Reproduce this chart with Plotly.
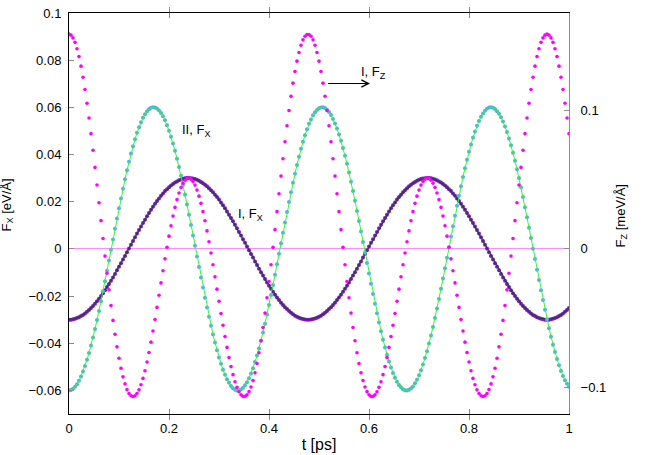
import plotly.graph_objects as go

# sampling of the trajectories: one point every 4 fs
T_START = 0.0
T_STEP = 0.004

# case I, F_X [eV/A]
fx_one = [
    -0.03, -0.03, -0.0298, -0.0296, -0.0293, -0.029, -0.0285, -0.028, -0.0274, -0.0267,
    -0.0259, -0.0251, -0.0242, -0.0233, -0.0222, -0.0211, -0.02, -0.0188, -0.0175, -0.0162,
    -0.0149, -0.0135, -0.0121, -0.0106, -0.0091, -0.0076, -0.0061, -0.0045, -0.003, -0.0014,
    0.0002, 0.0018, 0.0033, 0.0049, 0.0065, 0.008, 0.0095, 0.011, 0.0124, 0.0138,
    0.0152, 0.0166, 0.0179, 0.0191, 0.0203, 0.0214, 0.0225, 0.0235, 0.0245, 0.0253,
    0.0261, 0.0269, 0.0275, 0.0281, 0.0286, 0.0291, 0.0294, 0.0297, 0.0299, 0.03,
    0.03, 0.0299, 0.0298, 0.0296, 0.0293, 0.0289, 0.0284, 0.0278, 0.0272, 0.0265,
    0.0257, 0.0249, 0.024, 0.023, 0.022, 0.0209, 0.0197, 0.0185, 0.0172, 0.0159,
    0.0145, 0.0131, 0.0117, 0.0102, 0.0087, 0.0072, 0.0057, 0.0041, 0.0026, 0.001,
    -0.0006, -0.0022, -0.0037, -0.0053, -0.0068, -0.0084, -0.0099, -0.0113, -0.0128, -0.0142,
    -0.0156, -0.0169, -0.0182, -0.0194, -0.0206, -0.0217, -0.0228, -0.0238, -0.0247, -0.0255,
    -0.0263, -0.0271, -0.0277, -0.0283, -0.0288, -0.0292, -0.0295, -0.0297, -0.0299, -0.03,
    -0.03, -0.0299, -0.0297, -0.0295, -0.0292, -0.0288, -0.0283, -0.0277, -0.0271, -0.0263,
    -0.0255, -0.0247, -0.0238, -0.0228, -0.0217, -0.0206, -0.0194, -0.0182, -0.0169, -0.0156,
    -0.0142, -0.0128, -0.0113, -0.0099, -0.0084, -0.0068, -0.0053, -0.0037, -0.0022, -0.0006,
    0.001, 0.0026, 0.0041, 0.0057, 0.0072, 0.0087, 0.0102, 0.0117, 0.0131, 0.0145,
    0.0159, 0.0172, 0.0185, 0.0197, 0.0209, 0.022, 0.023, 0.024, 0.0249, 0.0257,
    0.0265, 0.0272, 0.0278, 0.0284, 0.0289, 0.0293, 0.0296, 0.0298, 0.0299, 0.03,
    0.03, 0.0299, 0.0297, 0.0294, 0.0291, 0.0286, 0.0281, 0.0275, 0.0269, 0.0261,
    0.0253, 0.0245, 0.0235, 0.0225, 0.0214, 0.0203, 0.0191, 0.0179, 0.0166, 0.0152,
    0.0138, 0.0124, 0.011, 0.0095, 0.008, 0.0065, 0.0049, 0.0033, 0.0018, 0.0002,
    -0.0014, -0.003, -0.0045, -0.0061, -0.0076, -0.0091, -0.0106, -0.0121, -0.0135, -0.0149,
    -0.0162, -0.0175, -0.0188, -0.02, -0.0211, -0.0222, -0.0233, -0.0242, -0.0251, -0.0259,
    -0.0267, -0.0274, -0.028, -0.0285, -0.029, -0.0293, -0.0296, -0.0298, -0.03, -0.03,
    -0.03, -0.0298, -0.0296, -0.0293, -0.029, -0.0285, -0.028, -0.0274, -0.0267, -0.0259,
    -0.0251,
]

# case II, F_X [eV/A]
fx_two = [
    -0.06, -0.0598, -0.0593, -0.0585, -0.0574, -0.0559, -0.0541, -0.052, -0.0497, -0.047,
    -0.0441, -0.041, -0.0376, -0.034, -0.0302, -0.0263, -0.0222, -0.018, -0.0137, -0.0093,
    -0.0049, -0.0004, 0.004, 0.0085, 0.0129, 0.0172, 0.0214, 0.0255, 0.0295, 0.0333,
    0.0369, 0.0404, 0.0435, 0.0465, 0.0492, 0.0516, 0.0537, 0.0556, 0.0571, 0.0583,
    0.0592, 0.0598, 0.06, 0.0599, 0.0595, 0.0587, 0.0576, 0.0562, 0.0545, 0.0524,
    0.0501, 0.0475, 0.0447, 0.0416, 0.0382, 0.0347, 0.031, 0.0271, 0.023, 0.0188,
    0.0145, 0.0101, 0.0057, 0.0013, -0.0032, -0.0077, -0.0121, -0.0164, -0.0207, -0.0248,
    -0.0288, -0.0326, -0.0363, -0.0397, -0.043, -0.046, -0.0487, -0.0512, -0.0534, -0.0553,
    -0.0568, -0.0581, -0.0591, -0.0597, -0.06, -0.0599, -0.0596, -0.0589, -0.0578, -0.0565,
    -0.0548, -0.0528, -0.0506, -0.048, -0.0452, -0.0422, -0.0389, -0.0354, -0.0317, -0.0278,
    -0.0238, -0.0196, -0.0153, -0.011, -0.0065, -0.0021, 0.0024, 0.0068, 0.0112, 0.0156,
    0.0199, 0.024, 0.028, 0.0319, 0.0356, 0.0391, 0.0424, 0.0454, 0.0482, 0.0507,
    0.053, 0.0549, 0.0566, 0.0579, 0.0589, 0.0596, 0.0599, 0.06, 0.0597, 0.059,
    0.058, 0.0568, 0.0551, 0.0532, 0.051, 0.0485, 0.0458, 0.0428, 0.0395, 0.0361,
    0.0324, 0.0285, 0.0245, 0.0204, 0.0161, 0.0118, 0.0074, 0.0029, -0.0015, -0.006,
    -0.0104, -0.0148, -0.0191, -0.0233, -0.0273, -0.0312, -0.0349, -0.0385, -0.0418, -0.0449,
    -0.0477, -0.0503, -0.0526, -0.0546, -0.0563, -0.0577, -0.0587, -0.0595, -0.0599, -0.06,
    -0.0597, -0.0592, -0.0583, -0.057, -0.0555, -0.0536, -0.0515, -0.049, -0.0463, -0.0434,
    -0.0401, -0.0367, -0.0331, -0.0293, -0.0253, -0.0212, -0.0169, -0.0126, -0.0082, -0.0038,
    0.0007, 0.0052, 0.0096, 0.014, 0.0183, 0.0225, 0.0266, 0.0305, 0.0342, 0.0378,
    0.0412, 0.0443, 0.0472, 0.0498, 0.0522, 0.0542, 0.056, 0.0574, 0.0586, 0.0594,
    0.0599, 0.06, 0.0598, 0.0593, 0.0584, 0.0573, 0.0558, 0.054, 0.0519, 0.0495,
    0.0468, 0.0439, 0.0408, 0.0374, 0.0338, 0.03, 0.0261, 0.022, 0.0177, 0.0134,
    0.009, 0.0046, 0.0001, -0.0043, -0.0088, -0.0132, -0.0175, -0.0217, -0.0258, -0.0298,
    -0.0336, -0.0372, -0.0406, -0.0437, -0.0467, -0.0493, -0.0518, -0.0539, -0.0557, -0.0572,
    -0.0584,
]

# case I, F_Z [meV/A] (right axis)
fz_one = [
    0.1552, 0.1545, 0.1525, 0.1493, 0.1447, 0.139, 0.1321, 0.1241, 0.1152, 0.1053,
    0.0946, 0.0833, 0.0713, 0.0589, 0.0462, 0.0333, 0.0204, 0.0075, -0.0052, -0.0176,
    -0.0296, -0.041, -0.0517, -0.0617, -0.0708, -0.0791, -0.0863, -0.0925, -0.0976, -0.1016,
    -0.1045, -0.1062, -0.1067, -0.1062, -0.1045, -0.1019, -0.0982, -0.0936, -0.0881, -0.0818,
    -0.0749, -0.0674, -0.0594, -0.051, -0.0423, -0.0335, -0.0246, -0.0158, -0.0072, 0.0012,
    0.0092, 0.0167, 0.0237, 0.03, 0.0356, 0.0404, 0.0444, 0.0475, 0.0496, 0.0509,
    0.0511, 0.0504, 0.0487, 0.0461, 0.0425, 0.0381, 0.0329, 0.0269, 0.0203, 0.013,
    0.0052, -0.003, -0.0115, -0.0202, -0.0291, -0.0379, -0.0467, -0.0552, -0.0634, -0.0712,
    -0.0785, -0.0851, -0.0909, -0.096, -0.1001, -0.1033, -0.1055, -0.1066, -0.1066, -0.1055,
    -0.1032, -0.0998, -0.0952, -0.0896, -0.0828, -0.0751, -0.0664, -0.0568, -0.0464, -0.0353,
    -0.0236, -0.0115, 0.0011, 0.0139, 0.0269, 0.0398, 0.0526, 0.0652, 0.0774, 0.089,
    0.1, 0.1103, 0.1198, 0.1282, 0.1357, 0.142, 0.1472, 0.1511, 0.1537, 0.155,
    0.155, 0.1537, 0.1511, 0.1472, 0.142, 0.1357, 0.1282, 0.1198, 0.1103, 0.1,
    0.089, 0.0774, 0.0652, 0.0526, 0.0398, 0.0269, 0.0139, 0.0011, -0.0115, -0.0236,
    -0.0353, -0.0464, -0.0568, -0.0664, -0.0751, -0.0828, -0.0896, -0.0952, -0.0998, -0.1032,
    -0.1055, -0.1066, -0.1066, -0.1055, -0.1033, -0.1001, -0.096, -0.0909, -0.0851, -0.0785,
    -0.0712, -0.0634, -0.0552, -0.0467, -0.0379, -0.0291, -0.0202, -0.0115, -0.003, 0.0052,
    0.013, 0.0203, 0.0269, 0.0329, 0.0381, 0.0425, 0.0461, 0.0487, 0.0504, 0.0511,
    0.0509, 0.0496, 0.0475, 0.0444, 0.0404, 0.0356, 0.03, 0.0237, 0.0167, 0.0092,
    0.0012, -0.0072, -0.0158, -0.0246, -0.0335, -0.0423, -0.051, -0.0594, -0.0674, -0.0749,
    -0.0818, -0.0881, -0.0936, -0.0982, -0.1019, -0.1045, -0.1062, -0.1067, -0.1062, -0.1045,
    -0.1016, -0.0976, -0.0925, -0.0863, -0.0791, -0.0708, -0.0617, -0.0517, -0.041, -0.0296,
    -0.0176, -0.0052, 0.0075, 0.0204, 0.0333, 0.0462, 0.0589, 0.0713, 0.0833, 0.0946,
    0.1053, 0.1152, 0.1241, 0.1321, 0.139, 0.1447, 0.1493, 0.1525, 0.1545, 0.1552,
    0.1545, 0.1525, 0.1493, 0.1447, 0.139, 0.1321, 0.1241, 0.1152, 0.1053, 0.0946,
    0.0833,
]

x_ticks = [0, 0.2, 0.4, 0.6, 0.8, 1]
x_labels = ['0', '0.2', '0.4', '0.6', '0.8', '1']
y_ticks = [-0.06, -0.04, -0.02, 0, 0.02, 0.04, 0.06, 0.08, 0.1]
y_labels = ['\u22120.06', '\u22120.04', '\u22120.02', '0', '0.02', '0.04', '0.06', '0.08', '0.1']
y2_ticks = [-0.1, 0, 0.1]
y2_labels = ['\u22120.1', '0', '0.1']

y_range = [-0.07, 0.1]
y2_range = [-0.11935, 0.1705]

FONT = 'Liberation Sans, Arial, sans-serif'
GREY = '#8c8c8c'

fig = go.Figure()

# I, F_X: violet points with a thin dark line through them
fig.add_trace(go.Scatter(y=fx_one, x0=T_START, dx=T_STEP, mode='markers',
                         marker=dict(color='#8a10c8', size=4, line=dict(width=0))))
fig.add_trace(go.Scatter(y=fx_one, x0=T_START, dx=T_STEP, mode='lines',
                         line=dict(color='#1d4a42', width=1.3)))

# II, F_X: light blue points with a bright green line
fig.add_trace(go.Scatter(y=fx_two, x0=T_START, dx=T_STEP, mode='markers',
                         marker=dict(color='#4fb0e2', size=4, line=dict(width=0))))
fig.add_trace(go.Scatter(y=fx_two, x0=T_START, dx=T_STEP, mode='lines',
                         line=dict(color='#3cf03c', width=1)))

# I, F_Z on the right axis
fig.add_trace(go.Scatter(y=fz_one, x0=T_START, dx=T_STEP, mode='markers', yaxis='y2',
                         marker=dict(color='#ff00ff', size=3.6, line=dict(width=0))))

fig.update_layout(
    width=650, height=455,
    margin=dict(l=69, r=81, t=13, b=41, autoexpand=False),
    paper_bgcolor='white', plot_bgcolor='white',
    showlegend=False,
    font=dict(family=FONT, size=13, color='black'),
    xaxis=dict(range=[0, 1], tickmode='array', tickvals=x_ticks, ticktext=x_labels,
               ticks='inside', ticklen=5, tickcolor=GREY, showgrid=False, zeroline=False,
               showline=True, linecolor='black', linewidth=1, mirror='allticks',
               ticklabelstandoff=2, ticklabeloverflow='allow',
               title=dict(text='t [ps]', standoff=4)),
    yaxis=dict(range=y_range, tickmode='array', tickvals=y_ticks, ticktext=y_labels,
               ticks='inside', ticklen=5, tickcolor=GREY, showgrid=False,
               zeroline=True, zerolinecolor='#ff8cff', zerolinewidth=1,
               showline=True, linecolor='black', linewidth=1, ticklabelstandoff=4,
               ticklabeloverflow='allow'),
    yaxis2=dict(range=y2_range, overlaying='y', side='right', tickmode='array',
                tickvals=y2_ticks, ticktext=y2_labels, ticks='inside', ticklen=5,
                tickcolor=GREY, showgrid=False, zeroline=False,
                showline=True, linecolor=GREY, linewidth=1, ticklabelstandoff=8,
                ticklabeloverflow='allow'),
)

# axis titles placed as rotated annotations
fig.add_annotation(text='F<sub>X</sub> [eV/Å]', xref='paper', yref='paper', x=-0.124, y=0.52,
                   xanchor='center', yanchor='middle',
                   textangle=-90, showarrow=False, font=dict(size=13))
fig.add_annotation(text='F<sub>Z</sub> [meV/Å]', xref='paper', yref='paper', x=1.105, y=0.494,
                   xanchor='center', yanchor='middle',
                   textangle=-90, showarrow=False, font=dict(size=13))

# curve labels
fig.add_annotation(text='II, F<sub>X</sub>', x=0.2217, y=0.0502, xanchor='left',
                   showarrow=False, font=dict(size=13))
fig.add_annotation(text='I, F<sub>X</sub>', x=0.3338, y=0.0147, xanchor='left',
                   showarrow=False, font=dict(size=13))
fig.add_annotation(text='I, F<sub>Z</sub>', x=0.580, y=0.0748, xanchor='left',
                   showarrow=False, font=dict(size=13))
fig.add_annotation(text='', x=0.602, y=0.0701, ax=0.5154, ay=0.0701, axref='x', ayref='y',
                   showarrow=True, arrowhead=5, arrowsize=1.4, arrowwidth=1, arrowcolor='black')

# drop the page's default 8 px body margin so the figure fills the window exactly
fig.write_html("out.html", config={'displayModeBar': False},
               post_script="document.body.style.margin = '0';")
